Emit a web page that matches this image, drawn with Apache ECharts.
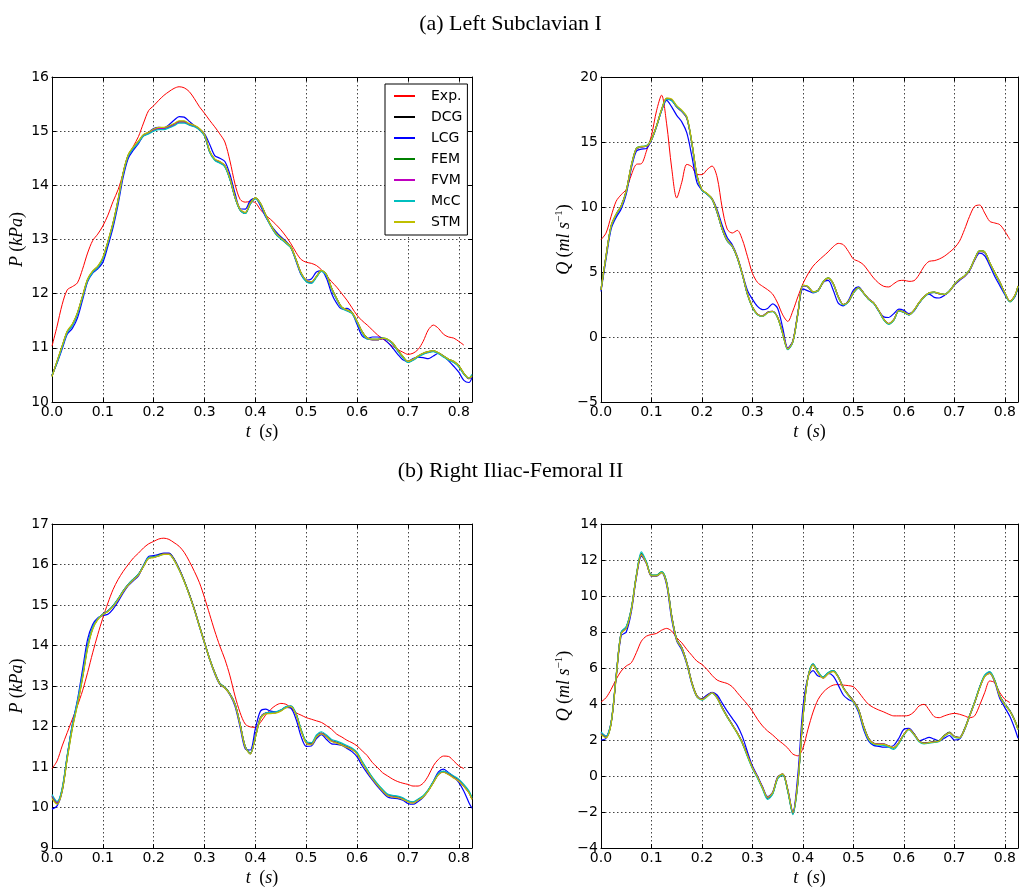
<!DOCTYPE html>
<html>
<head>
<meta charset="utf-8">
<title>Left Subclavian I / Right Iliac-Femoral II</title>
<script src="https://cdn.jsdelivr.net/npm/echarts@6/dist/echarts.min.js"></script>
<style>
  html, body { margin: 0; padding: 0; background: #fff; }
  #chart { width: 1021px; height: 888px; }
</style>
</head>
<body>
<div id="chart"></div>
<script>
// time samples (s)
const t = [0, 0.01, 0.02, 0.03, 0.04, 0.05, 0.06, 0.07, 0.08, 0.09,
  0.10, 0.11, 0.12, 0.13, 0.14, 0.15, 0.16, 0.17, 0.18, 0.19,
  0.20, 0.21, 0.22, 0.23, 0.24, 0.25, 0.26, 0.27, 0.28, 0.29,
  0.30, 0.31, 0.32, 0.33, 0.34, 0.35, 0.36, 0.37, 0.38, 0.39,
  0.40, 0.41, 0.42, 0.43, 0.44, 0.45, 0.46, 0.47, 0.48, 0.49,
  0.50, 0.51, 0.52, 0.53, 0.54, 0.55, 0.56, 0.57, 0.58, 0.59,
  0.60, 0.61, 0.62, 0.63, 0.64, 0.65, 0.66, 0.67, 0.68, 0.69,
  0.70, 0.71, 0.72, 0.73, 0.74, 0.75, 0.76, 0.77, 0.78, 0.79,
  0.80, 0.81, 0.82, 0.826]

const names = ['Exp.', 'DCG', 'LCG', 'FEM', 'FVM', 'McC', 'STM']
const colors = ['#ff0000', '#000000', '#0000ff', '#008000', '#bf00bf', '#00bfbf', '#bfbf00']

// (a) Left Subclavian I - pressure (kPa)
const aP_exp = [11.03, 11.40, 11.80, 12.07, 12.13, 12.20, 12.45, 12.75, 12.98, 13.10,
  13.25, 13.45, 13.70, 13.92, 14.22, 14.52, 14.72, 14.90, 15.15, 15.38,
  15.47, 15.57, 15.66, 15.73, 15.79, 15.82, 15.80, 15.73, 15.60, 15.45,
  15.33, 15.20, 15.08, 14.95, 14.80, 14.45, 14.02, 13.74, 13.69, 13.70,
  13.68, 13.55, 13.45, 13.37, 13.28, 13.18, 13.06, 12.92, 12.76, 12.63,
  12.58, 12.56, 12.52, 12.44, 12.33, 12.22, 12.12, 12.00, 11.88, 11.74,
  11.60, 11.50, 11.42, 11.33, 11.24, 11.17, 11.10, 11.03, 10.97, 10.92,
  10.88, 10.90, 10.97, 11.12, 11.33, 11.42, 11.36, 11.25, 11.20, 11.18,
  11.12, 11.05]
const aP_dcg = [10.49, 10.74, 11.02, 11.29, 11.42, 11.63, 11.94, 12.25, 12.40, 12.49,
  12.65, 12.95, 13.29, 13.72, 14.22, 14.55, 14.69, 14.80, 14.92, 14.96,
  15.02, 15.05, 15.05, 15.08, 15.12, 15.17, 15.17, 15.12, 15.09, 15.03,
  14.92, 14.62, 14.48, 14.43, 14.36, 14.12, 13.78, 13.55, 13.49, 13.66,
  13.76, 13.66, 13.45, 13.26, 13.11, 13.02, 12.94, 12.85, 12.62, 12.37,
  12.24, 12.21, 12.31, 12.42, 12.34, 12.09, 11.90, 11.74, 11.69, 11.64,
  11.48, 11.29, 11.17, 11.15, 11.15, 11.17, 11.15, 11.08, 10.95, 10.83,
  10.74, 10.78, 10.84, 10.89, 10.92, 10.94, 10.90, 10.84, 10.78, 10.74,
  10.66, 10.52, 10.43, 10.49]
const aP_lcg = [10.49, 10.72, 10.98, 11.25, 11.36, 11.55, 11.88, 12.22, 12.38, 12.46,
  12.58, 12.88, 13.22, 13.65, 14.15, 14.50, 14.65, 14.77, 14.92, 14.98,
  15.05, 15.07, 15.06, 15.12, 15.20, 15.27, 15.26, 15.18, 15.10, 15.04,
  14.95, 14.76, 14.55, 14.50, 14.44, 14.20, 13.85, 13.57, 13.56, 13.72,
  13.76, 13.62, 13.42, 13.27, 13.15, 13.05, 12.97, 12.85, 12.60, 12.35,
  12.25, 12.27, 12.40, 12.42, 12.28, 12.00, 11.82, 11.72, 11.73, 11.65,
  11.43, 11.22, 11.17, 11.20, 11.20, 11.18, 11.10, 11.00, 10.88, 10.78,
  10.75, 10.80, 10.83, 10.82, 10.80, 10.85, 10.90, 10.85, 10.76, 10.66,
  10.55, 10.40, 10.36, 10.45]
const aP_fem = [10.47, 10.75, 11.03, 11.30, 11.43, 11.64, 11.95, 12.26, 12.41, 12.50,
  12.66, 12.96, 13.30, 13.73, 14.23, 14.56, 14.70, 14.81, 14.93, 14.97,
  15.03, 15.06, 15.06, 15.09, 15.13, 15.18, 15.18, 15.13, 15.10, 15.04,
  14.93, 14.63, 14.47, 14.42, 14.35, 14.11, 13.77, 13.54, 13.48, 13.67,
  13.77, 13.67, 13.46, 13.27, 13.12, 13.03, 12.95, 12.86, 12.63, 12.38,
  12.23, 12.20, 12.32, 12.43, 12.35, 12.10, 11.91, 11.75, 11.70, 11.65,
  11.49, 11.30, 11.18, 11.15, 11.15, 11.18, 11.16, 11.09, 10.96, 10.84,
  10.75, 10.78, 10.85, 10.90, 10.93, 10.95, 10.91, 10.85, 10.79, 10.75,
  10.67, 10.53, 10.44, 10.48]
const aP_fvm = [10.49, 10.74, 11.02, 11.29, 11.42, 11.63, 11.94, 12.25, 12.40, 12.49,
  12.65, 12.95, 13.29, 13.72, 14.22, 14.55, 14.69, 14.80, 14.92, 14.96,
  15.02, 15.05, 15.05, 15.08, 15.12, 15.17, 15.17, 15.12, 15.09, 15.03,
  14.92, 14.62, 14.48, 14.43, 14.36, 14.12, 13.78, 13.55, 13.49, 13.66,
  13.76, 13.66, 13.45, 13.26, 13.11, 13.02, 12.94, 12.85, 12.62, 12.37,
  12.24, 12.21, 12.31, 12.42, 12.34, 12.09, 11.90, 11.74, 11.69, 11.64,
  11.48, 11.29, 11.17, 11.15, 11.15, 11.17, 11.15, 11.08, 10.95, 10.83,
  10.74, 10.78, 10.84, 10.89, 10.92, 10.94, 10.90, 10.84, 10.78, 10.74,
  10.66, 10.52, 10.43, 10.49]
const aP_mcc = [10.50, 10.73, 11.01, 11.28, 11.41, 11.62, 11.93, 12.24, 12.39, 12.48,
  12.64, 12.94, 13.28, 13.71, 14.21, 14.54, 14.68, 14.79, 14.91, 14.95,
  15.00, 15.03, 15.03, 15.06, 15.10, 15.15, 15.15, 15.11, 15.08, 15.02,
  14.91, 14.61, 14.46, 14.41, 14.34, 14.10, 13.77, 13.54, 13.48, 13.65,
  13.75, 13.65, 13.44, 13.25, 13.10, 13.01, 12.93, 12.84, 12.61, 12.36,
  12.22, 12.19, 12.30, 12.41, 12.33, 12.08, 11.89, 11.73, 11.68, 11.63,
  11.47, 11.28, 11.16, 11.16, 11.16, 11.18, 11.15, 11.07, 10.94, 10.82,
  10.73, 10.77, 10.83, 10.88, 10.91, 10.93, 10.89, 10.83, 10.77, 10.73,
  10.65, 10.51, 10.44, 10.51]
const aP_stm = [10.47, 10.76, 11.04, 11.31, 11.44, 11.65, 11.96, 12.27, 12.42, 12.51,
  12.67, 12.97, 13.31, 13.74, 14.24, 14.57, 14.71, 14.82, 14.94, 14.98,
  15.04, 15.07, 15.07, 15.10, 15.14, 15.19, 15.19, 15.14, 15.11, 15.05,
  14.94, 14.64, 14.49, 14.44, 14.37, 14.13, 13.79, 13.56, 13.50, 13.67,
  13.77, 13.67, 13.46, 13.27, 13.12, 13.03, 12.95, 12.86, 12.63, 12.38,
  12.25, 12.22, 12.32, 12.43, 12.35, 12.10, 11.91, 11.75, 11.70, 11.65,
  11.49, 11.30, 11.18, 11.16, 11.16, 11.18, 11.16, 11.09, 10.96, 10.84,
  10.75, 10.79, 10.85, 10.90, 10.93, 10.95, 10.91, 10.85, 10.79, 10.75,
  10.67, 10.53, 10.44, 10.48]

// (a) Left Subclavian I - flow (ml/s)
const aQ_exp = [7.49, 8.0, 9.28, 10.44, 10.95, 11.35, 12.45, 13.28, 13.33, 14.3,
  15.5, 17.4, 18.6, 16.4, 13.0, 10.7, 11.9, 13.28, 13.1, 12.5,
  12.49, 12.87, 13.15, 12.3, 9.95, 8.3, 8.0, 8.2, 7.49, 6.21,
  4.9, 4.2, 3.9, 3.64, 3.3, 2.6, 1.7, 1.2, 2.0, 3.1,
  4.1, 4.85, 5.45, 5.85, 6.2, 6.55, 6.95, 7.2, 7.1, 6.59,
  6.0, 5.82, 5.56, 5.05, 4.54, 4.15, 3.9, 3.85, 4.1, 4.33,
  4.36, 4.28, 4.33, 4.79, 5.44, 5.82, 5.87, 6.0, 6.21, 6.51,
  6.85, 7.36, 8.26, 9.28, 10.05, 10.15, 9.54, 8.9, 8.77, 8.64,
  8.13, 7.49]
const aQ_dcg = [3.64, 6.21, 8.51, 9.41, 10.05, 11.2, 13.13, 14.46, 14.62, 14.67,
  15.18, 16.2, 17.45, 18.3, 18.2, 17.7, 17.35, 16.85, 14.9, 12.4,
  11.3, 11.0, 10.6, 9.6, 8.3, 7.4, 6.97, 6.1, 4.8, 3.3,
  2.3, 1.75, 1.62, 1.9, 1.98, 1.5, 0.3, -0.9, -0.35, 1.8,
  3.95, 3.85, 3.45, 3.55, 4.2, 4.5, 4.1, 3.1, 2.5, 2.7,
  3.4, 3.77, 3.38, 2.92, 2.62, 2.05, 1.38, 1.03, 1.33, 2.0,
  1.9, 1.72, 2.05, 2.62, 3.08, 3.38, 3.44, 3.33, 3.26, 3.51,
  4.03, 4.41, 4.67, 5.13, 5.95, 6.59, 6.51, 5.69, 4.92, 4.21,
  3.38, 2.74, 3.2, 3.9]
const aQ_lcg = [3.5, 6.0, 8.3, 9.2, 9.85, 11.0, 12.95, 14.3, 14.45, 14.5,
  15.15, 16.2, 17.4, 18.2, 17.7, 17.05, 16.55, 15.7, 13.9, 11.9,
  11.3, 11.0, 10.65, 9.8, 8.6, 7.65, 7.1, 6.2, 4.9, 3.6,
  2.9, 2.35, 2.1, 2.2, 2.55, 2.2, 0.7, -0.85, -0.3, 1.9,
  3.7, 3.55, 3.4, 3.6, 4.2, 4.35, 3.6, 2.6, 2.4, 2.8,
  3.6, 3.85, 3.4, 2.95, 2.6, 2.0, 1.55, 1.5, 1.8, 2.15,
  2.05, 1.8, 2.0, 2.6, 3.1, 3.3, 3.05, 3.0, 3.2, 3.55,
  4.0, 4.35, 4.65, 5.1, 5.9, 6.45, 6.25, 5.5, 4.65, 3.95,
  3.25, 2.75, 3.1, 3.85]
const aQ_fem = [3.6, 6.25, 8.55, 9.45, 10.1, 11.25, 13.2, 14.52, 14.66, 14.7,
  15.22, 16.25, 17.5, 18.36, 18.26, 17.76, 17.4, 16.9, 14.95, 12.45,
  11.33, 11.03, 10.63, 9.62, 8.32, 7.42, 6.98, 6.12, 4.82, 3.3,
  2.28, 1.72, 1.6, 1.88, 1.96, 1.48, 0.25, -0.95, -0.38, 1.78,
  3.98, 3.88, 3.48, 3.58, 4.25, 4.55, 4.12, 3.08, 2.48, 2.72,
  3.42, 3.8, 3.4, 2.9, 2.6, 2.02, 1.34, 1.0, 1.3, 2.02,
  1.92, 1.7, 2.05, 2.64, 3.1, 3.4, 3.46, 3.35, 3.28, 3.54,
  4.06, 4.44, 4.7, 5.16, 6.0, 6.64, 6.55, 5.72, 4.95, 4.23,
  3.38, 2.72, 3.18, 3.92]
const aQ_fvm = [3.64, 6.21, 8.51, 9.41, 10.05, 11.2, 13.13, 14.46, 14.62, 14.67,
  15.18, 16.2, 17.45, 18.3, 18.2, 17.7, 17.35, 16.85, 14.9, 12.4,
  11.3, 11.0, 10.6, 9.6, 8.3, 7.4, 6.97, 6.1, 4.8, 3.3,
  2.3, 1.75, 1.62, 1.9, 1.98, 1.5, 0.3, -0.9, -0.35, 1.8,
  3.95, 3.85, 3.45, 3.55, 4.2, 4.5, 4.1, 3.1, 2.5, 2.7,
  3.4, 3.77, 3.38, 2.92, 2.62, 2.05, 1.38, 1.03, 1.33, 2.0,
  1.9, 1.72, 2.05, 2.62, 3.08, 3.38, 3.44, 3.33, 3.26, 3.51,
  4.03, 4.41, 4.67, 5.13, 5.95, 6.59, 6.51, 5.69, 4.92, 4.21,
  3.38, 2.74, 3.2, 3.9]
const aQ_mcc = [3.68, 6.18, 8.48, 9.4, 10.03, 11.18, 13.1, 14.5, 14.65, 14.7,
  15.16, 16.18, 17.42, 18.27, 18.18, 17.72, 17.38, 16.88, 14.88, 12.38,
  11.28, 10.98, 10.58, 9.58, 8.28, 7.38, 6.95, 6.08, 4.78, 3.28,
  2.26, 1.7, 1.58, 1.86, 1.95, 1.46, 0.22, -0.98, -0.4, 1.76,
  3.96, 3.86, 3.44, 3.54, 4.22, 4.52, 4.08, 3.06, 2.46, 2.68,
  3.38, 3.76, 3.36, 2.9, 2.58, 2.0, 1.32, 0.98, 1.3, 1.98,
  1.88, 1.7, 2.03, 2.6, 3.06, 3.36, 3.44, 3.34, 3.27, 3.52,
  4.04, 4.43, 4.7, 5.15, 5.98, 6.62, 6.52, 5.7, 4.9, 4.18,
  3.34, 2.7, 3.16, 3.88]
const aQ_stm = [3.62, 6.24, 8.56, 9.46, 10.08, 11.24, 13.18, 14.5, 14.64, 14.69,
  15.2, 16.24, 17.5, 18.38, 18.3, 17.8, 17.45, 16.95, 14.98, 12.46,
  11.34, 11.04, 10.64, 9.64, 8.34, 7.44, 7.0, 6.14, 4.84, 3.33,
  2.3, 1.74, 1.6, 1.87, 1.96, 1.48, 0.26, -0.92, -0.36, 1.82,
  3.98, 3.88, 3.47, 3.57, 4.23, 4.53, 4.12, 3.1, 2.5, 2.72,
  3.42, 3.79, 3.4, 2.93, 2.63, 2.06, 1.38, 1.04, 1.34, 2.02,
  1.92, 1.73, 2.07, 2.64, 3.1, 3.4, 3.46, 3.35, 3.28, 3.53,
  4.05, 4.43, 4.69, 5.15, 5.98, 6.63, 6.55, 5.73, 4.95, 4.23,
  3.4, 2.75, 3.22, 3.93]

// (b) Right Iliac-Femoral II - pressure (kPa)
const bP_exp = [10.96, 11.15, 11.52, 11.85, 12.18, 12.51, 12.88, 13.33, 13.82, 14.27,
  14.68, 15.05, 15.38, 15.63, 15.83, 16.0, 16.16, 16.28, 16.41, 16.51,
  16.57, 16.63, 16.65, 16.62, 16.54, 16.45, 16.3, 16.08, 15.83, 15.55,
  15.18, 14.77, 14.36, 13.99, 13.66, 13.25, 12.75, 12.34, 12.06, 11.99,
  11.98, 12.1, 12.28, 12.42, 12.52, 12.57, 12.55, 12.46, 12.34, 12.28,
  12.22, 12.18, 12.14, 12.1, 12.02, 11.93, 11.81, 11.74, 11.66, 11.6,
  11.52, 11.4, 11.28, 11.11, 10.99, 10.86, 10.78, 10.7, 10.64, 10.6,
  10.57, 10.53, 10.53, 10.6, 10.78, 11.03, 11.19, 11.27, 11.26, 11.15,
  11.03, 10.96]
const bP_dcg = [10.29, 10.12, 10.45, 11.27, 12.01, 12.59, 13.25, 13.99, 14.44, 14.66,
  14.77, 14.85, 14.97, 15.14, 15.34, 15.50, 15.63, 15.75, 15.96, 16.16,
  16.18, 16.22, 16.26, 16.26, 16.12, 15.88, 15.59, 15.26, 14.89, 14.48,
  14.07, 13.67, 13.33, 13.06, 12.96, 12.80, 12.55, 12.05, 11.50, 11.33,
  11.75, 12.22, 12.33, 12.34, 12.35, 12.40, 12.48, 12.50, 12.30, 11.90,
  11.60, 11.56, 11.75, 11.83, 11.75, 11.64, 11.60, 11.55, 11.49, 11.44,
  11.33, 11.11, 10.91, 10.72, 10.56, 10.42, 10.30, 10.27, 10.25, 10.21,
  10.15, 10.12, 10.19, 10.27, 10.42, 10.62, 10.82, 10.88, 10.82, 10.74,
  10.66, 10.53, 10.37, 10.21]
const bP_lcg = [9.96, 10.04, 10.4, 11.25, 12.05, 12.65, 13.4, 14.15, 14.52, 14.68,
  14.74, 14.77, 14.9, 15.08, 15.3, 15.48, 15.6, 15.72, 15.98, 16.2,
  16.22, 16.25, 16.28, 16.28, 16.14, 15.9, 15.6, 15.26, 14.88, 14.46,
  14.05, 13.65, 13.3, 13.04, 12.95, 12.78, 12.5, 11.98, 11.45, 11.42,
  11.95, 12.38, 12.43, 12.38, 12.36, 12.4, 12.47, 12.45, 12.18, 11.75,
  11.51, 11.52, 11.7, 11.8, 11.68, 11.57, 11.56, 11.53, 11.46, 11.38,
  11.25, 11.03, 10.85, 10.68, 10.52, 10.38, 10.26, 10.23, 10.22, 10.18,
  10.1, 10.08, 10.15, 10.25, 10.42, 10.65, 10.88, 10.95, 10.86, 10.76,
  10.62, 10.4, 10.12, 9.98]
const bP_fem = [10.25, 10.10, 10.42, 11.22, 11.96, 12.55, 13.2, 13.95, 14.42, 14.65,
  14.77, 14.85, 14.98, 15.15, 15.35, 15.51, 15.64, 15.76, 15.97, 16.17,
  16.19, 16.23, 16.27, 16.27, 16.13, 15.89, 15.6, 15.27, 14.9, 14.49,
  14.08, 13.68, 13.34, 13.07, 12.97, 12.81, 12.56, 12.06, 11.51, 11.34,
  11.74, 12.2, 12.32, 12.33, 12.34, 12.39, 12.47, 12.5, 12.31, 11.91,
  11.61, 11.57, 11.76, 11.84, 11.76, 11.65, 11.61, 11.56, 11.5, 11.45,
  11.34, 11.12, 10.92, 10.73, 10.57, 10.43, 10.31, 10.28, 10.26, 10.22,
  10.16, 10.13, 10.2, 10.28, 10.43, 10.63, 10.83, 10.89, 10.83, 10.75,
  10.67, 10.54, 10.38, 10.22]
const bP_fvm = [10.29, 10.12, 10.45, 11.27, 12.01, 12.59, 13.25, 13.99, 14.44, 14.66,
  14.77, 14.85, 14.97, 15.14, 15.34, 15.50, 15.63, 15.75, 15.96, 16.16,
  16.18, 16.22, 16.26, 16.26, 16.12, 15.88, 15.59, 15.26, 14.89, 14.48,
  14.07, 13.67, 13.33, 13.06, 12.96, 12.80, 12.55, 12.05, 11.50, 11.33,
  11.75, 12.22, 12.33, 12.34, 12.35, 12.40, 12.48, 12.50, 12.30, 11.90,
  11.60, 11.56, 11.75, 11.83, 11.75, 11.64, 11.60, 11.55, 11.49, 11.44,
  11.33, 11.11, 10.91, 10.72, 10.56, 10.42, 10.30, 10.27, 10.25, 10.21,
  10.15, 10.12, 10.19, 10.27, 10.42, 10.62, 10.82, 10.88, 10.82, 10.74,
  10.66, 10.53, 10.37, 10.21]
const bP_mcc = [10.32, 10.15, 10.48, 11.3, 12.04, 12.62, 13.28, 14.0, 14.45, 14.66,
  14.77, 14.86, 14.98, 15.15, 15.35, 15.51, 15.64, 15.76, 15.97, 16.17,
  16.18, 16.22, 16.25, 16.25, 16.11, 15.87, 15.58, 15.25, 14.88, 14.47,
  14.06, 13.66, 13.32, 13.06, 12.96, 12.8, 12.55, 12.05, 11.5, 11.33,
  11.74, 12.21, 12.33, 12.35, 12.36, 12.41, 12.49, 12.51, 12.32, 11.93,
  11.63, 11.6, 11.79, 11.87, 11.79, 11.68, 11.64, 11.59, 11.53, 11.47,
  11.36, 11.14, 10.94, 10.75, 10.59, 10.45, 10.33, 10.3, 10.28, 10.24,
  10.17, 10.14, 10.21, 10.29, 10.44, 10.64, 10.84, 10.9, 10.85, 10.78,
  10.7, 10.57, 10.41, 10.25]
const bP_stm = [10.22, 10.08, 10.4, 11.2, 11.94, 12.53, 13.18, 13.92, 14.4, 14.64,
  14.76, 14.84, 14.96, 15.13, 15.33, 15.49, 15.62, 15.74, 15.95, 16.15,
  16.17, 16.21, 16.25, 16.25, 16.11, 15.87, 15.58, 15.25, 14.88, 14.47,
  14.06, 13.66, 13.32, 13.05, 12.95, 12.79, 12.54, 12.04, 11.49, 11.32,
  11.73, 12.19, 12.31, 12.32, 12.33, 12.38, 12.46, 12.49, 12.29, 11.89,
  11.59, 11.55, 11.74, 11.82, 11.74, 11.63, 11.59, 11.54, 11.48, 11.43,
  11.32, 11.1, 10.9, 10.71, 10.55, 10.41, 10.29, 10.26, 10.24, 10.2,
  10.14, 10.11, 10.18, 10.26, 10.41, 10.61, 10.81, 10.87, 10.81, 10.73,
  10.65, 10.52, 10.36, 10.2]

// (b) Right Iliac-Femoral II - flow (ml/s)
const bQ_exp = [4.11, 4.35, 4.81, 5.37, 5.83, 6.11, 6.29, 6.85, 7.49, 7.77,
  7.86, 7.92, 8.1, 8.2, 8.05, 7.68, 7.4, 7.03, 6.7, 6.38,
  6.2, 5.92, 5.59, 5.33, 5.22, 5.14, 4.96, 4.63, 4.3, 3.98,
  3.6, 3.15, 2.78, 2.5, 2.28, 2.02, 1.8, 1.55, 1.22, 1.12,
  1.55, 2.6, 3.55, 4.25, 4.65, 4.9, 5.05, 5.08, 5.05, 5.02,
  4.96, 4.67, 4.3, 3.98, 3.8, 3.67, 3.56, 3.43, 3.34, 3.34,
  3.34, 3.37, 3.56, 3.89, 3.98, 3.67, 3.3, 3.24, 3.34, 3.43,
  3.48, 3.43, 3.34, 3.24, 3.34, 3.93, 4.63, 5.28, 5.18, 4.63,
  4.26, 4.08]
const bQ_dcg = [2.41, 2.19, 2.96, 5.55, 7.95, 8.23, 9.25, 11.1, 12.3, 11.83,
  11.13, 11.13, 11.32, 10.73, 8.88, 7.58, 7.12, 6.29, 5.18, 4.44,
  4.26, 4.44, 4.63, 4.35, 3.8, 3.3, 2.85, 2.4, 1.85, 1.15,
  0.47, -0.05, -0.65, -1.2, -0.95, -0.1, 0.1, -0.8, -2.05, -0.3,
  3.3, 5.5, 6.19, 5.75, 5.45, 5.7, 5.82, 5.5, 4.9, 4.5,
  4.16, 3.7, 2.78, 2.08, 1.82, 1.77, 1.77, 1.67, 1.58, 1.86,
  2.32, 2.6, 2.32, 1.95, 1.82, 1.86, 1.9, 1.95, 2.23, 2.41,
  2.19, 2.13, 2.6, 3.34, 4.08, 4.91, 5.55, 5.74, 5.28, 4.44,
  3.98, 3.61, 3.06, 2.6]
const bQ_lcg = [2.0, 2.1, 2.9, 5.45, 7.8, 8.0, 9.1, 11.0, 12.22, 11.8,
  11.1, 11.1, 11.3, 10.6, 8.7, 7.5, 7.0, 6.2, 5.1, 4.4,
  4.3, 4.5, 4.65, 4.5, 4.05, 3.6, 3.2, 2.8, 2.2, 1.35,
  0.55, 0.0, -0.6, -1.15, -0.9, -0.05, 0.1, -0.75, -2.0, 0.1,
  3.8, 5.5, 5.85, 5.55, 5.5, 5.7, 5.55, 5.05, 4.5, 4.25,
  4.1, 3.55, 2.6, 1.95, 1.7, 1.65, 1.6, 1.62, 1.7, 2.1,
  2.6, 2.65, 2.35, 1.95, 2.05, 2.15, 2.05, 1.95, 2.1, 2.25,
  2.0, 2.05, 2.55, 3.3, 4.05, 4.9, 5.55, 5.7, 5.2, 4.3,
  3.8, 3.3, 2.6, 2.1]
const bQ_fem = [2.35, 2.15, 2.92, 5.5, 7.98, 8.28, 9.3, 11.15, 12.35, 11.88,
  11.16, 11.16, 11.36, 10.78, 8.92, 7.6, 7.14, 6.3, 5.2, 4.46,
  4.27, 4.45, 4.64, 4.36, 3.8, 3.3, 2.84, 2.38, 1.83, 1.12,
  0.44, -0.08, -0.68, -1.24, -0.98, -0.12, 0.08, -0.84, -2.1, -0.38,
  3.25, 5.48, 6.22, 5.78, 5.48, 5.73, 5.85, 5.52, 4.92, 4.52,
  4.18, 3.72, 2.8, 2.1, 1.8, 1.75, 1.75, 1.64, 1.55, 1.84,
  2.3, 2.6, 2.34, 1.96, 1.83, 1.87, 1.92, 1.97, 2.25, 2.44,
  2.2, 2.14, 2.62, 3.36, 4.1, 4.93, 5.58, 5.77, 5.3, 4.46,
  4.0, 3.63, 3.08, 2.62]
const bQ_fvm = [2.41, 2.19, 2.96, 5.55, 7.95, 8.23, 9.25, 11.1, 12.3, 11.83,
  11.13, 11.13, 11.32, 10.73, 8.88, 7.58, 7.12, 6.29, 5.18, 4.44,
  4.26, 4.44, 4.63, 4.35, 3.8, 3.3, 2.85, 2.4, 1.85, 1.15,
  0.47, -0.05, -0.65, -1.2, -0.95, -0.1, 0.1, -0.8, -2.05, -0.3,
  3.3, 5.5, 6.19, 5.75, 5.45, 5.7, 5.82, 5.5, 4.9, 4.5,
  4.16, 3.7, 2.78, 2.08, 1.82, 1.77, 1.77, 1.67, 1.58, 1.86,
  2.32, 2.6, 2.32, 1.95, 1.82, 1.86, 1.9, 1.95, 2.23, 2.41,
  2.19, 2.13, 2.6, 3.34, 4.08, 4.91, 5.55, 5.74, 5.28, 4.44,
  3.98, 3.61, 3.06, 2.6]
const bQ_mcc = [2.45, 2.22, 3.0, 5.6, 8.0, 8.3, 9.3, 11.15, 12.45, 11.9,
  11.15, 11.15, 11.35, 10.75, 8.86, 7.56, 7.1, 6.27, 5.15, 4.4,
  4.22, 4.4, 4.6, 4.32, 3.77, 3.27, 2.82, 2.36, 1.8, 1.08,
  0.4, -0.12, -0.72, -1.3, -1.02, -0.15, 0.06, -0.86, -2.15, -0.4,
  3.22, 5.48, 6.25, 5.8, 5.5, 5.75, 5.86, 5.5, 4.88, 4.46,
  4.12, 3.65, 2.72, 2.02, 1.76, 1.72, 1.7, 1.6, 1.48, 1.8,
  2.28, 2.58, 2.28, 1.9, 1.78, 1.82, 1.86, 1.92, 2.2, 2.38,
  2.15, 2.1, 2.58, 3.34, 4.1, 4.94, 5.6, 5.8, 5.32, 4.46,
  3.98, 3.6, 3.04, 2.56]
const bQ_stm = [2.3, 2.12, 2.9, 5.48, 7.92, 8.2, 9.22, 11.08, 12.28, 11.82,
  11.12, 11.12, 11.3, 10.7, 8.85, 7.55, 7.1, 6.27, 5.16, 4.42,
  4.24, 4.42, 4.61, 4.33, 3.78, 3.28, 2.83, 2.38, 1.84, 1.14,
  0.46, -0.06, -0.66, -1.18, -0.93, -0.08, 0.12, -0.78, -2.02, -0.32,
  3.22, 5.45, 6.16, 5.73, 5.43, 5.68, 5.8, 5.48, 4.88, 4.48,
  4.14, 3.68, 2.76, 2.06, 1.8, 1.76, 1.76, 1.66, 1.57, 1.85,
  2.31, 2.59, 2.31, 1.94, 1.81, 1.85, 1.89, 1.94, 2.22, 2.4,
  2.18, 2.12, 2.58, 3.32, 4.06, 4.88, 5.52, 5.7, 5.26, 4.42,
  3.96, 3.6, 3.05, 2.58]

const sans = 'DejaVu Sans'
const serif = 'Liberation Serif'
const P_NAME = '{i|P} {n|(}{i|kPa}{n|)}'
const Q_NAME = '{i|Q} {n|(}{i|ml s}{sup|\u22121}{n|)}'
const T_NAME = '{i|t}  {n|(}{i|s}{n|)}'

// 四个子图
const panels = [
  { grid: { left: 52, top: 77, width: 420, height: 325 }, min: 10, max: 16, interval: 1, yName: P_NAME, nameGap: 25,
    lines: [aP_exp, aP_dcg, aP_lcg, aP_fem, aP_fvm, aP_mcc, aP_stm] },
  { grid: { left: 601, top: 77, width: 419, height: 325 }, min: -5, max: 20, interval: 5, yName: Q_NAME, nameGap: 27,
    lines: [aQ_exp, aQ_dcg, aQ_lcg, aQ_fem, aQ_fvm, aQ_mcc, aQ_stm] },
  { grid: { left: 52, top: 524, width: 420, height: 325 }, min: 9, max: 17, interval: 1, yName: P_NAME, nameGap: 25,
    lines: [bP_exp, bP_dcg, bP_lcg, bP_fem, bP_fvm, bP_mcc, bP_stm] },
  { grid: { left: 601, top: 524, width: 419, height: 325 }, min: -4, max: 14, interval: 2, yName: Q_NAME, nameGap: 27,
    lines: [bQ_exp, bQ_dcg, bQ_lcg, bQ_fem, bQ_fvm, bQ_mcc, bQ_stm] }
]

const richText = {
  i: { fontFamily: serif, fontStyle: 'italic', fontSize: 18, lineHeight: 20, color: '#000' },
  n: { fontFamily: serif, fontSize: 18, lineHeight: 20, color: '#000' },
  sup: { fontFamily: serif, fontSize: 11, lineHeight: 20, color: '#000', verticalAlign: 'top' }
}
const nameStyle = { fontFamily: serif, fontSize: 17, color: '#000', rich: richText }
const tickLabel = { fontFamily: sans, fontSize: 14, color: '#000' }
const gridLine = { show: true, lineStyle: { color: '#444', width: 1, type: [1.5, 2.5] } }
const frame = { show: true, onZero: false, lineStyle: { color: '#000', width: 1 } }
const inTick = { show: true, inside: true, length: 4, lineStyle: { color: '#000' } }

const xAxis = []
const yAxis = []
const series = []

panels.forEach((p, i) => {
  // bottom x
  xAxis.push({
    type: 'value', gridIndex: i, min: 0, max: 0.826, interval: 0.1,
    axisLine: frame, axisTick: inTick, splitLine: gridLine,
    axisLabel: Object.assign({ margin: 3, formatter: v => (Math.abs(v * 10 - Math.round(v * 10)) < 1e-6 ? v.toFixed(1) : '') }, tickLabel),
    name: T_NAME, nameLocation: 'middle', nameGap: 20, nameTextStyle: nameStyle
  })
  // top x (frame + ticks)
  xAxis.push({
    type: 'value', gridIndex: i, position: 'top', min: 0, max: 0.826, interval: 0.1,
    axisLine: frame, axisTick: inTick, splitLine: { show: false }, axisLabel: { show: false }
  })
  // left y
  yAxis.push({
    type: 'value', gridIndex: i, min: p.min, max: p.max, interval: p.interval,
    axisLine: frame, axisTick: inTick, splitLine: gridLine,
    axisLabel: Object.assign({ margin: 3, formatter: v => String(v).replace('-', '\u2212') }, tickLabel),
    name: p.yName, nameLocation: 'middle', nameGap: p.nameGap, nameTextStyle: nameStyle
  })
  // right y
  yAxis.push({
    type: 'value', gridIndex: i, position: 'right', min: p.min, max: p.max, interval: p.interval,
    axisLine: frame, axisTick: inTick, splitLine: { show: false }, axisLabel: { show: false }
  })

  p.lines.forEach((vals, k) => {
    series.push({
      type: 'line',
      name: names[k],
      xAxisIndex: i * 2,
      yAxisIndex: i * 2,
      data: vals.map((v, j) => [t[j], v]),
      showSymbol: false,
      smooth: 0.3,
      silent: true,
      lineStyle: { color: colors[k], width: k === 0 ? 1 : 1.2 },
      itemStyle: { color: colors[k] }
    })
  })
})

const chart = echarts.init(document.getElementById('chart'))
chart.setOption({
  animation: false,
  backgroundColor: '#fff',
  title: [
    { text: '(a) Left Subclavian I', left: 'center', top: 8,
      textStyle: { fontFamily: serif, fontSize: 22, fontWeight: 'normal', color: '#000' } },
    { text: '(b) Right Iliac-Femoral II', left: 'center', top: 455,
      textStyle: { fontFamily: serif, fontSize: 22, fontWeight: 'normal', color: '#000' } }
  ],
  legend: {
    data: names,
    orient: 'vertical',
    left: 385,
    top: 84,
    padding: [5, 5, 6, 9],
    itemGap: 7,
    itemWidth: 21,
    itemHeight: 2,
    icon: 'rect',
    selectedMode: false,
    backgroundColor: '#fff',
    borderColor: '#000',
    borderWidth: 1,
    textStyle: { fontFamily: sans, fontSize: 14, color: '#000', padding: [0, 0, 0, 11] }
  },
  grid: panels.map(p => Object.assign({ containLabel: false }, p.grid)),
  xAxis: xAxis,
  yAxis: yAxis,
  series: series
})
</script>
</body>
</html>
